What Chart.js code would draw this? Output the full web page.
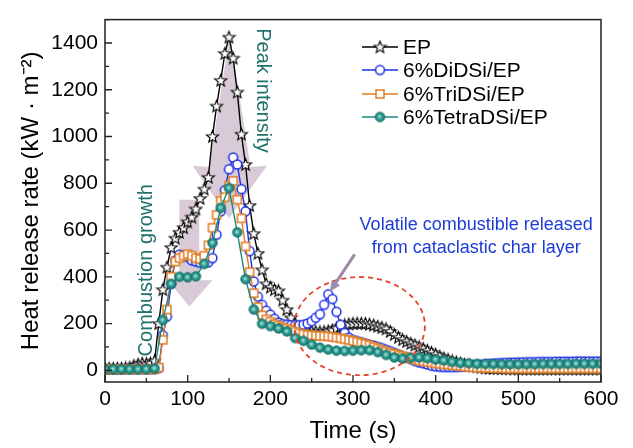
<!DOCTYPE html>
<html>
<head>
<meta charset="utf-8">
<script src="https://cdn.jsdelivr.net/npm/chart.js@4.4.1/dist/chart.umd.min.js"></script>
<style>
html,body{margin:0;padding:0;background:#fff;}
#wrap{width:633px;height:448px;}
</style>
</head>
<body>
<div id="wrap"><canvas id="hrrChart" width="633" height="448"></canvas></div>
<script>
// time axis (s), 5 s sampling for EP / DiDSi / TriDSi, 10 s for TetraDSi
var time5 = [
  0,5,10,15,20,25,30,35,40,45,
  50,55,60,65,70,75,80,85,90,95,
  100,105,110,115,120,125,130,135,140,145,
  150,155,160,165,170,175,180,185,190,195,
  200,205,210,215,220,225,230,235,240,245,
  250,255,260,265,270,275,280,285,290,295,
  300,305,310,315,320,325,330,335,340,345,
  350,355,360,365,370,375,380,385,390,395,
  400,405,410,415,420,425,430,435,440,445,
  450,455,460,465,470,475,480,485,490,495,
  500,505,510,515,520,525,530,535,540,545,
  550,555,560,565,570,575,580,585,590,595,
  600
];
var time10 = [
  0,10,20,30,40,50,60,70,80,90,
  100,110,120,130,140,150,160,170,180,190,
  200,210,220,230,240,250,260,270,280,290,
  300,310,320,330,340,350,360,370,380,390,
  400,410,420,430,440,450,460,470,480,490,
  500,510,520,530,540,550,560,570,580,590,
  600
];

var epHRR = [
  8,8,8,8,8,10,12,20,26,30,
  28,30,40,200,345,441,525,565,590,610,
  635,655,690,735,775,825,1000,1130,1240,1355,
  1425,1335,1190,1010,880,705,585,500,430,370,
  355,345,340,300,260,225,200,185,176,170,
  167,165,164,165,168,172,180,188,194,198,
  200,201,201,200,197,193,188,183,177,166,
  153,141,131,123,115,108,100,92,84,76,
  68,60,52,46,40,35,30,25,21,18,
  15,12,10,9,8,8,7,7,7,6,
  6,6,6,6,6,6,6,6,6,6,
  6,6,6,6,6,6,6,6,6,6,
  6
];
var diHRR = [
  5,5,5,5,5,5,5,5,5,5,
  5,5,5,10,150,230,370,470,495,490,
  485,470,465,460,460,462,480,580,680,770,
  860,910,880,775,680,510,380,315,280,255,
  238,220,205,198,195,193,193,193,195,200,
  210,225,240,280,325,305,250,195,160,140,
  130,125,120,115,110,106,100,95,88,82,
  75,68,60,55,48,40,34,30,25,20,
  17,15,14,14,14,14,15,16,18,20,
  22,24,26,28,29,30,31,32,33,33,
  34,34,35,35,35,36,36,36,36,37,
  37,37,37,37,38,38,38,38,38,38,
  38
];
var triHRR = [
  5,5,5,5,5,5,5,5,5,5,
  5,5,5,12,130,260,400,465,480,490,
  497,490,480,476,490,535,610,665,725,740,
  790,810,730,650,530,420,330,270,235,218,
  208,198,190,183,178,172,165,158,155,152,
  150,148,147,146,145,143,140,137,133,130,
  126,122,117,112,107,100,93,86,80,75,
  70,65,60,55,50,46,42,39,36,33,
  30,28,26,24,22,20,18,16,15,13,
  12,11,10,10,9,9,9,8,8,8,
  8,8,8,8,8,8,8,8,8,8,
  8,8,8,8,8,8,8,8,8,8,
  8
];
var tetraHRR = [
  5,5,5,5,5,5,8,215,370,400,
  398,402,455,545,695,780,590,390,260,199,
  189,179,166,138,126,110,97,89,84,83,
  84,86,86,78,66,55,50,54,55,52,
  46,42,36,32,30,28,27,27,26,26,
  26,26,26,27,27,27,27,28,28,28,
  28
];

var seriesNames = ['EP', '6%DiDSi/EP', '6%TriDSi/EP', '6%TetraDSi/EP'];
var xTickVals = [0, 100, 200, 300, 400, 500, 600];
var yTickVals = [0, 200, 400, 600, 800, 1000, 1200, 1400];

function pairs(ts, vs) {
  var out = [];
  for (var i = 0; i < ts.length; i++) out.push({x: ts[i], y: vs[i]});
  return out;
}

// marker images
function mk(size, draw) {
  var c = document.createElement('canvas');
  c.width = size; c.height = size;
  var g = c.getContext('2d');
  draw(g, size / 2);
  return c;
}
var starImg = mk(15, function(g, c){
  g.beginPath();
  for (var i = 0; i < 10; i++) {
    var r = (i % 2 === 0) ? 6.3 : 2.7;
    var a = -Math.PI / 2 + i * Math.PI / 5;
    var px = c + r * Math.cos(a), py = c + 0.4 + r * Math.sin(a);
    if (i === 0) g.moveTo(px, py); else g.lineTo(px, py);
  }
  g.closePath();
  g.fillStyle = '#fff'; g.fill();
  g.lineWidth = 1.1; g.strokeStyle = '#000'; g.stroke();
});
var circleImg = mk(13, function(g, c){
  g.beginPath(); g.arc(c, c, 4.4, 0, Math.PI * 2);
  g.fillStyle = '#fff'; g.fill();
  g.lineWidth = 1.5; g.strokeStyle = '#1b2fe6'; g.stroke();
});
var squareImg = mk(12, function(g, c){
  g.fillStyle = '#fff'; g.fillRect(c - 4, c - 4, 8, 8);
  g.lineWidth = 1.5; g.strokeStyle = '#e07b22'; g.strokeRect(c - 4, c - 4, 8, 8);
});
var tealImg = mk(13, function(g, c){
  var grd = g.createRadialGradient(c - 0.5, c - 0.5, 0.5, c, c, 5);
  grd.addColorStop(0, '#a6dcd5');
  grd.addColorStop(0.45, '#2f9e94');
  grd.addColorStop(1, '#14786f');
  g.beginPath(); g.arc(c, c, 4.8, 0, Math.PI * 2);
  g.fillStyle = grd; g.fill();
  g.lineWidth = 0.8; g.strokeStyle = '#116a62'; g.stroke();
});

var lineColors = ['#000000', '#1b2fe6', '#e07b22', '#1a8a80'];
var markers = [starImg, circleImg, squareImg, tealImg];

var FONT = '"Liberation Sans", Arial, Helvetica, sans-serif';

var annot = {
  id: 'annot',
  beforeDatasetsDraw: function(chart) {
    var ctx = chart.ctx, xs = chart.scales.x, ys = chart.scales.y;
    function poly(pts) {
      ctx.beginPath();
      pts.forEach(function(p, i){
        var px = xs.getPixelForValue(p[0]), py = ys.getPixelForValue(p[1]);
        if (i === 0) ctx.moveTo(px, py); else ctx.lineTo(px, py);
      });
      ctx.closePath(); ctx.fill();
    }
    ctx.save();
    ctx.fillStyle = 'rgba(168,138,165,0.45)';
    // peak intensity arrow
    poly([[151, 1440], [176, 870], [196, 875], [150, 650], [106, 875], [126, 870]]);
    // combustion growth arrow
    poly([[90, 730], [114, 730], [114, 385], [130, 385], [102, 273], [76, 385], [90, 385]]);
    ctx.restore();
  },
  afterDatasetsDraw: function(chart) {
    var ctx = chart.ctx, xs = chart.scales.x, ys = chart.scales.y, ca = chart.chartArea;
    function X(v){ return xs.getPixelForValue(v); }
    function Y(v){ return ys.getPixelForValue(v); }
    ctx.save();

    // dashed ellipse around the second peak
    var cx = X(308), cy = Y(189);
    ctx.beginPath();
    ctx.ellipse(cx, cy, X(308 + 79) - cx, cy - Y(189 + 210), 0, 0, Math.PI * 2);
    ctx.setLineDash([5, 4]);
    ctx.lineWidth = 1.8; ctx.strokeStyle = '#e5432b'; ctx.stroke();
    ctx.setLineDash([]);

    // small pointer arrow
    var ax1 = X(302), ay1 = Y(496), ax2 = X(272), ay2 = Y(336);
    var ang = Math.atan2(ay2 - ay1, ax2 - ax1);
    ctx.strokeStyle = '#9c8aa8'; ctx.fillStyle = '#9c8aa8'; ctx.lineWidth = 3;
    ctx.beginPath(); ctx.moveTo(ax1, ay1);
    ctx.lineTo(ax2 - 8 * Math.cos(ang), ay2 - 8 * Math.sin(ang)); ctx.stroke();
    ctx.beginPath();
    ctx.moveTo(ax2, ay2);
    ctx.lineTo(ax2 - 11 * Math.cos(ang) + 5 * Math.sin(ang), ay2 - 11 * Math.sin(ang) - 5 * Math.cos(ang));
    ctx.lineTo(ax2 - 11 * Math.cos(ang) - 5 * Math.sin(ang), ay2 - 11 * Math.sin(ang) + 5 * Math.cos(ang));
    ctx.closePath(); ctx.fill();

    // annotation text
    ctx.font = '18px ' + FONT;
    ctx.fillStyle = '#1d3bd6';
    ctx.textAlign = 'center'; ctx.textBaseline = 'middle';
    ctx.fillText('Volatile combustible released', X(449), Y(622));
    ctx.fillText('from cataclastic char layer', X(449), Y(525));

    ctx.font = '20px ' + FONT;
    ctx.fillStyle = '#1f716c';
    ctx.save();
    ctx.translate(X(190), Y(1197)); ctx.rotate(Math.PI / 2);
    ctx.fillText('Peak intensity', 0, 0);
    ctx.restore();
    ctx.save();
    ctx.translate(X(50), Y(428)); ctx.rotate(-Math.PI / 2);
    ctx.fillText('Combustion growth', 0, 0);
    ctx.restore();

    // legend
    ctx.font = '21px ' + FONT;
    ctx.textAlign = 'left';
    var ly = [47, 70, 94, 117];
    for (var i = 0; i < seriesNames.length; i++) {
      ctx.strokeStyle = lineColors[i]; ctx.lineWidth = 1.5;
      ctx.beginPath(); ctx.moveTo(362, ly[i]); ctx.lineTo(398, ly[i]); ctx.stroke();
      var m = markers[i];
      ctx.drawImage(m, 380 - m.width / 2, ly[i] - m.height / 2);
      ctx.fillStyle = '#000';
      ctx.fillText(seriesNames[i], 403, ly[i] + 1);
    }

    // frame + inward ticks
    ctx.strokeStyle = '#222'; ctx.lineWidth = 1.5;
    ctx.strokeRect(ca.left, ca.top, ca.right - ca.left, ca.bottom - ca.top);
    ctx.lineWidth = 1.3;
    ctx.beginPath();
    for (var t = 0; t <= 600; t += 50) {
      var len = (t % 100 === 0) ? 7 : 4;
      ctx.moveTo(X(t), ca.bottom); ctx.lineTo(X(t), ca.bottom - len);
    }
    for (var v = 0; v <= 1500; v += 100) {
      var l2 = (v % 200 === 0) ? 7 : 4;
      ctx.moveTo(ca.left, Y(v)); ctx.lineTo(ca.left + l2, Y(v));
    }
    ctx.stroke();
    ctx.restore();
  }
};

function ds(label, ts, vs, idx, order) {
  return {
    label: label,
    data: pairs(ts, vs),
    borderColor: lineColors[idx],
    backgroundColor: lineColors[idx],
    borderWidth: 1.4,
    pointStyle: markers[idx],
    pointRadius: 5,
    tension: 0,
    order: order
  };
}

function plainTick(v) { return String(v); }

var chart = new Chart(document.getElementById('hrrChart'), {
  type: 'line',
  data: {
    datasets: [
      ds(seriesNames[0], time5, epHRR, 0, 4),
      ds(seriesNames[1], time5, diHRR, 1, 3),
      ds(seriesNames[2], time5, triHRR, 2, 2),
      ds(seriesNames[3], time10, tetraHRR, 3, 1)
    ]
  },
  options: {
    responsive: false,
    animation: false,
    layout: {padding: {top: 13, right: 32, left: 0, bottom: 0}},
    plugins: {legend: {display: false}, tooltip: {enabled: false}},
    scales: {
      x: {
        type: 'linear', min: 0, max: 600,
        grid: {display: false, drawTicks: false},
        border: {display: false},
        afterBuildTicks: function(s){ s.ticks = xTickVals.map(function(v){ return {value: v}; }); },
        afterFit: function(s){ s.height = 66; },
        ticks: {color: '#000', font: {family: FONT, size: 21}, padding: 5, maxRotation: 0, callback: plainTick},
        title: {display: true, text: 'Time (s)', color: '#000', font: {family: FONT, size: 24}, padding: {bottom: 2}}
      },
      y: {
        type: 'linear', min: -50, max: 1500,
        grid: {display: false, drawTicks: false},
        border: {display: false},
        afterBuildTicks: function(s){ s.ticks = yTickVals.map(function(v){ return {value: v}; }); },
        afterFit: function(s){ s.width = 105; },
        ticks: {color: '#000', font: {family: FONT, size: 21}, padding: 7, callback: plainTick},
        title: {display: true, text: 'Heat release rate (kW \u00b7 m\u207b\u00b2)', color: '#000', font: {family: FONT, size: 24}, padding: {top: 17}}
      }
    }
  },
  plugins: [annot]
});
</script>
</body>
</html>
